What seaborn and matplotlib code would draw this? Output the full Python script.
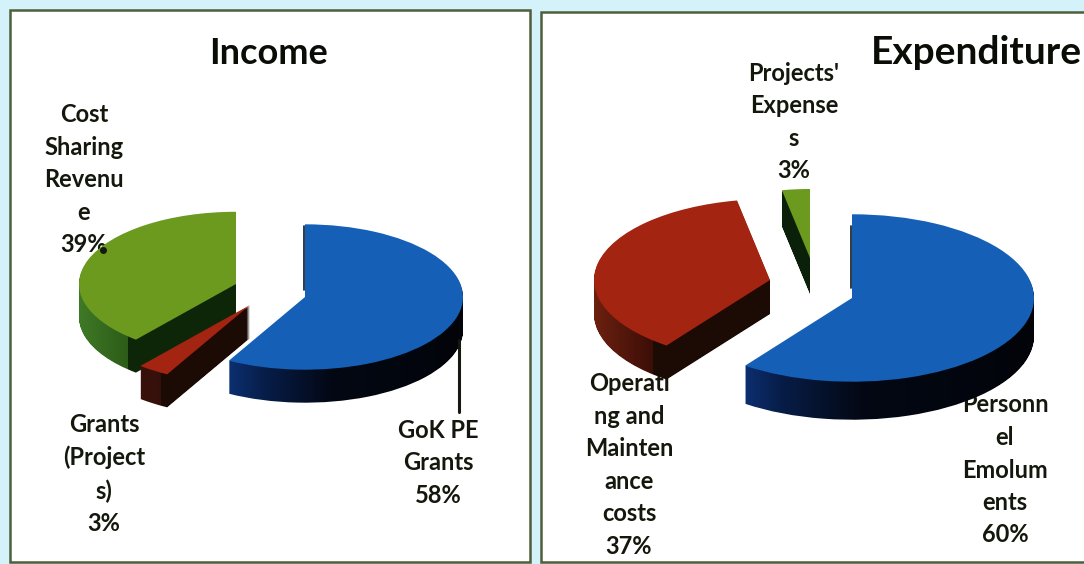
import numpy as np
import matplotlib
matplotlib.use("Agg")
import matplotlib.pyplot as plt
from matplotlib.colors import to_rgb
from matplotlib.patches import Rectangle
from matplotlib.path import Path
import seaborn as sns

# ---- data ----
income_labels = ["GoK PE\nGrants", "Grants\n(Project\ns)", "Cost\nSharing\nRevenu\ne"]
income_shares = [58, 3, 39]
expenditure_labels = ["Personn\nel\nEmolum\nents", "Operati\nng and\nMainten\nance\ncosts", "Projects'\nExpense\ns"]
expenditure_shares = [60, 37, 3]
titles = ["Income", "Expenditure"]
slice_colors = ["#1560b6", "#a32410", "#6b9a1f"]
income_colors = [slice_colors[0], slice_colors[1], slice_colors[2]]
expenditure_colors = [slice_colors[0], slice_colors[1], slice_colors[2]]

sns.set_theme(style="white")
plt.rcParams["font.family"] = ["Lato", "DejaVu Sans"]

W, H = 1084, 564
SQUASH = 0.46
BG = "#d3f2f9"
TEXT = "#14180c"


def X(px):
    return px


def Y(py):
    return (H - py) / SQUASH


fig = plt.figure(figsize=(W / 100, H / 100), dpi=100, facecolor=BG)
ax = fig.add_axes([0, 0, 1, 1])


def reset():
    ax.set_xlim(0, W)
    ax.set_ylim(0, H / SQUASH)
    ax.set_aspect("auto")
    ax.set_axis_off()


def one_wedge(shares, idx, apex, r, drop=0, color="k", z=3):
    wedges, _ = ax.pie(
        shares, colors=[color] * len(shares), startangle=90, counterclock=False,
        center=(X(apex[0]), Y(apex[1] + drop)), radius=r, frame=False,
        wedgeprops={"linewidth": 0},
    )
    for j, w in enumerate(wedges):
        if j != idx:
            w.remove()
    wedges[idx].set_zorder(z)
    return wedges[idx]


def pie_slice(shares, idx, apex, r, depth, color, stops, z):
    paths = []
    for d in range(1, depth + 1):
        w = one_wedge(shares, idx, apex, r, drop=d)
        paths.append(w.get_path())
        w.remove()
    clip = Path.make_compound_path(*paths)
    xs = np.arange(0, W)
    sx = [s[0] for s in stops]
    rgb = np.array([to_rgb(s[1]) for s in stops])
    img = np.stack([np.interp(xs, sx, rgb[:, c]) for c in range(3)], axis=-1)[None, :, :]
    im = ax.imshow(img, extent=(0, W, 0, H / SQUASH), aspect="auto", zorder=z,
                   interpolation="nearest")
    im.set_clip_path(clip, transform=ax.transData)
    one_wedge(shares, idx, apex, r, color=color, z=z + 0.1)


# ---- panels ----
ax.add_patch(Rectangle((X(10), Y(562)), 520, Y(10) - Y(562), fc="white", ec="#4f5f3c", lw=1.8, zorder=0))
ax.add_patch(Rectangle((X(541), Y(562)), 560, Y(12) - Y(562), fc="white", ec="#4f5f3c", lw=1.8, zorder=0))

# ---- income pie ----
pie_slice(income_shares, 2, (236, 284), 157, 33, income_colors[2],
          [(78, "#3f7a26"), (127, "#2d5c18"), (128, "#0d2608"), (240, "#0d2608")], 3)
pie_slice(income_shares, 1, (250, 305), 172, 33, income_colors[1],
          [(137, "#3a100a"), (160, "#35100a"), (161, "#1c0a05"), (252, "#1c0a05")], 4)
pie_slice(income_shares, 0, (305, 297), 158, 33, income_colors[0],
          [(229, "#0c2f70"), (265, "#071d48"), (330, "#030814"), (470, "#020409")], 5)

# ---- expenditure pie ----
pie_slice(expenditure_shares, 1, (770, 280), 176, 34, expenditure_colors[1],
          [(594, "#6c2010"), (652, "#3c0e07"), (653, "#1c0b05"), (775, "#1c0b05")], 3)
pie_slice(expenditure_shares, 2, (810, 258), 150, 36, expenditure_colors[2],
          [(780, "#0b2008"), (812, "#0b2008")], 3)
pie_slice(expenditure_shares, 0, (852, 298), 182, 38, expenditure_colors[0],
          [(745, "#0c2f70"), (780, "#071d48"), (860, "#030814"), (1040, "#020409")], 5)
reset()

# ---- leader line, mark and cut-face slivers ----
ax.plot([X(459), X(459)], [Y(340), Y(412)], color="#15180f", lw=2.2, zorder=6)
ax.plot([X(103)], [Y(250)], "o", color="#15180f", ms=4, zorder=6)
ax.plot([X(304), X(304)], [Y(226), Y(290)], color="#0c1a20", lw=1.2, zorder=4)
ax.plot([X(851), X(851)], [Y(226), Y(288)], color="#0c1a20", lw=1.2, zorder=4)

# ---- text ----
LS = 1.5
FS = 17


def label(x, y, name, share):
    ax.text(X(x), Y(y), f"{name}\n{share}%", ha="center", va="center", fontsize=FS,
            fontweight="bold", color=TEXT, linespacing=LS, zorder=2)


label(84, 180, income_labels[2], income_shares[2])
label(104, 474, income_labels[1], income_shares[1])
label(438, 463, income_labels[0], income_shares[0])
label(794, 122, expenditure_labels[2], expenditure_shares[2])
label(629, 465, expenditure_labels[1], expenditure_shares[1])
label(1005, 470, expenditure_labels[0], expenditure_shares[0])

ax.text(X(269), Y(54), titles[0], ha="center", va="center", fontsize=26,
        fontweight="bold", color="#0a0c06", zorder=2)
ax.text(X(976), Y(53), titles[1], ha="center", va="center", fontsize=28,
        fontweight="bold", color="#0a0c06", zorder=2)

reset()
fig.savefig("out.png", dpi=100, facecolor=BG)
